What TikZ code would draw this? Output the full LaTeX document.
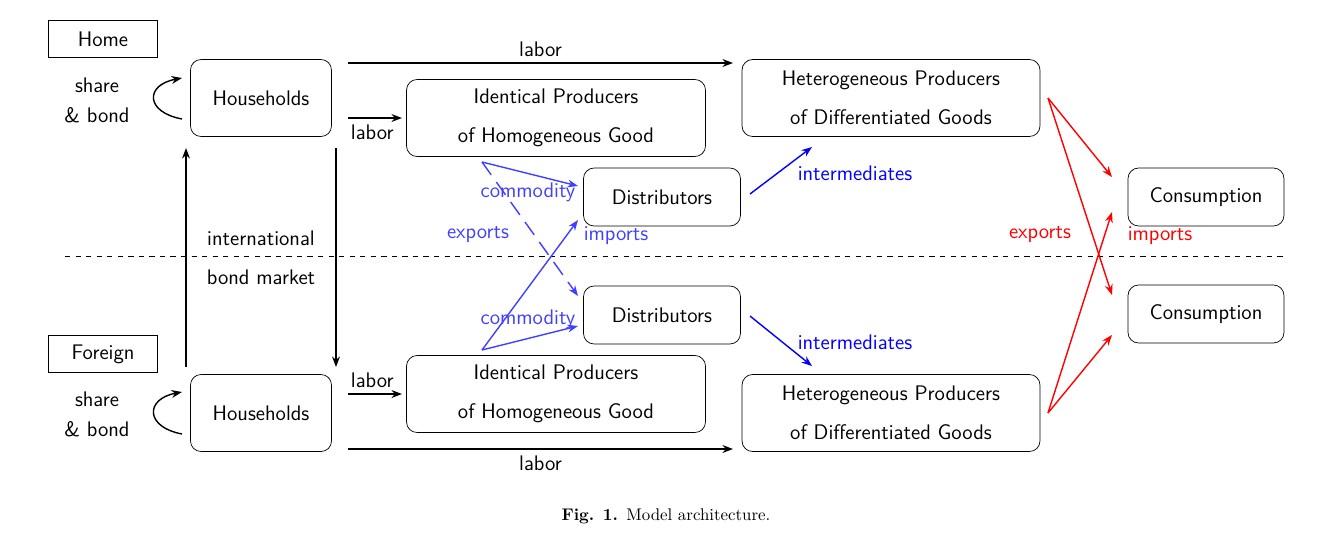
\documentclass[tikz,border=0pt]{standalone}
\usepackage{tikz}
\usetikzlibrary{arrows.meta,calc}

\begin{document}
\begin{tikzpicture}[x=0.02cm,y=-0.02cm,>={Stealth[length=6pt,width=4.5pt]},
    font=\sffamily\large,
    box/.style={draw,rounded corners=6pt,align=center,minimum height=1.54cm},
    tag/.style={draw,minimum width=2.18cm,minimum height=0.75cm},
    flow/.style={thick,->},
    trade/.style={thick,->,blue!75},
    inter/.style={thick,->,blue},
    world/.style={thick,->,red}]
    \useasboundingbox (0,0) rectangle (1336,549);

    % Home
    \node[tag] (home) at (103,39) {Home};
    \node[box,minimum width=2.82cm] (hhH) at (261,98) {Households};
    \node[box,minimum width=5.98cm] (idH) at (556,118) {Identical Producers\\[8pt]of Homogeneous Good};
    \node[box,minimum width=5.96cm] (htH) at (891,98) {Heterogeneous Producers\\[8pt]of Differentiated Goods};
    \node[box,minimum width=3.14cm,minimum height=1.16cm] (dsH) at (662,197) {Distributors};
    \node[box,minimum width=3.12cm,minimum height=1.16cm] (csH) at (1206,197) {Consumption};

    % Foreign
    \node[tag] (foreign) at (103,354) {Foreign};
    \node[box,minimum width=2.82cm] (hhF) at (261,413) {Households};
    \node[box,minimum width=5.98cm] (idF) at (556,394) {Identical Producers\\[8pt]of Homogeneous Good};
    \node[box,minimum width=5.96cm] (htF) at (891,413) {Heterogeneous Producers\\[8pt]of Differentiated Goods};
    \node[box,minimum width=3.14cm,minimum height=1.16cm] (dsF) at (662,315) {Distributors};
    \node[box,minimum width=3.12cm,minimum height=1.16cm] (csF) at (1206,314) {Consumption};

    % Border
    \draw[dashed] (65,256) -- (1284,256);

    % Labor flows
    \coordinate (lH1) at (348,63); \coordinate (lH2) at (733,63);
    \draw[flow] (lH1) -- node[above] {labor} (lH2);
    \coordinate (lH3) at (348,118); \coordinate (lH4) at (402,118);
    \draw[flow] (lH3) -- (lH4) node[below,pos=0.45] {labor};
    \coordinate (lF1) at (348,449); \coordinate (lF2) at (733,449);
    \draw[flow] (lF1) -- node[below] {labor} (lF2);
    \coordinate (lF3) at (348,394); \coordinate (lF4) at (402,394);
    \draw[flow] (lF3) -- (lF4) node[above,pos=0.45] {labor};

    % Share and bond
    \coordinate (sH1) at (182,119); \coordinate (sH2) at (182,78);
    \draw[flow] (sH1) .. controls (145,112) and (145,85) .. (sH2);
    \node[align=center] (sbH) at (97,100) {share\\[3pt]\& bond};
    \coordinate (sF1) at (182,434); \coordinate (sF2) at (182,392);
    \draw[flow] (sF1) .. controls (145,427) and (145,399) .. (sF2);
    \node[align=center] (sbF) at (97,414) {share\\[3pt]\& bond};

    % International bond market
    \coordinate (bU1) at (186,367); \coordinate (bU2) at (186,148);
    \draw[flow] (bU1) -- (bU2);
    \coordinate (bD1) at (336,148); \coordinate (bD2) at (336,367);
    \draw[flow] (bD1) -- (bD2);
    \node (intl) at (261,238) {international};
    \node (bond) at (261,277) {bond market};

    % Commodity trade
    \coordinate (cH) at (482,162); \coordinate (cF) at (482,350);
    \coordinate (dH1) at (578,186); \coordinate (dH2) at (578,220);
    \coordinate (dF1) at (578,296); \coordinate (dF2) at (578,326);
    \draw[trade] (cH) -- (dH1);
    \draw[trade,dashed,dash pattern=on 9pt off 5pt] (cH) -- (dF1);
    \draw[trade] (cF) -- (dH2);
    \draw[trade] (cF) -- (dF2);
    \node[blue!75] (cmH) at (528,192) {commodity};
    \node[blue!75] (cmF) at (528,319) {commodity};
    \node[blue!75] (exB) at (478,235) {exports};
    \node[blue!75] (imB) at (616,236) {imports};

    % Intermediates
    \coordinate (iH1) at (750,194); \coordinate (iH2) at (812,147);
    \draw[inter] (iH1) -- (iH2);
    \node[blue] (inH) at (855,173) {intermediates};
    \coordinate (iF1) at (750,316); \coordinate (iF2) at (812,366);
    \draw[inter] (iF1) -- (iF2);
    \node[blue] (inF) at (855,342) {intermediates};

    % Final goods trade
    \coordinate (gH) at (1048,98); \coordinate (gF) at (1048,413);
    \draw[world] (gH) -- (1112,177);
    \draw[world] (gH) -- (1112,295);
    \draw[world] (gF) -- (1112,212);
    \draw[world] (gF) -- (1112,335);
    \node[red] (exR) at (1040,235) {exports};
    \node[red] (imR) at (1160,236) {imports};

    % Caption
    \node[font=\rmfamily\fontsize{9.6}{11}\selectfont] (cap) at (666,516) {\textbf{Fig. 1.}\enspace Model architecture.};
\end{tikzpicture}
\end{document}
